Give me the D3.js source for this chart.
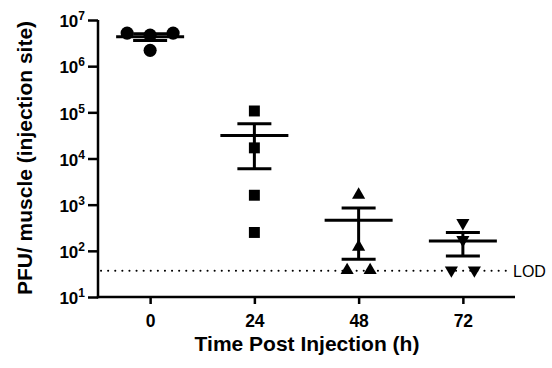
<!DOCTYPE html>
<html>
<head>
<meta charset="utf-8">
<script src="https://cdn.jsdelivr.net/npm/d3@7.9.0/dist/d3.min.js"></script>
<style>
  body { margin: 0; background: #fff; }
  svg { display: block; font-family: "Liberation Sans", Arial, sans-serif; }
</style>
</head>
<body>
<svg id="chart" width="552" height="368"></svg>
<script>
// --- data ---
const timePoints = [0, 24, 48, 72];
const shapes = ['circle', 'square', 'triangle', 'triangleDown'];
const pfu0 = [5.2e6, 4.7e6, 5.2e6, 2.2e6];
const pfu24 = [1.07e5, 1.7e4, 1.6e3, 250];
const pfu48 = [1630, 122, 38, 38];
const pfu72 = [404, 173, 38, 38];
// column slot of each point inside its group (dots that sit side by side)
const slots0 = [-2, 0, 2, 0];
const slots24 = [0, 0, 0, 0];
const slots48 = [0, 0, -1, 1];
const slots72 = [0, 0, -1, 1];
const yTicks = [1e1, 1e2, 1e3, 1e4, 1e5, 1e6, 1e7];
const lod = 37;

const groups = [
  { t: timePoints[0], shape: shapes[0], values: pfu0, slots: slots0 },
  { t: timePoints[1], shape: shapes[1], values: pfu24, slots: slots24 },
  { t: timePoints[2], shape: shapes[2], values: pfu48, slots: slots48 },
  { t: timePoints[3], shape: shapes[3], values: pfu72, slots: slots72 },
];

// mean and SEM for each group
groups.forEach((g) => {
  g.mean = d3.mean(g.values);
  g.sem = d3.deviation(g.values) / Math.sqrt(g.values.length);
});

const svg = d3.select('#chart');

const x = d3.scaleLinear().domain([-12, 84]).range([98, 515]);
const y = d3.scaleLog().domain([10, 1e7]).range([297, 20]);
const slotWidth = 11.5;

// --- axes ---
const yAxis = svg.append('g')
  .attr('class', 'y-axis')
  .attr('transform', `translate(${x.range()[0]},0)`)
  .call(d3.axisLeft(y).tickValues(yTicks).tickSize(10).tickPadding(3).tickFormat(''));

yAxis.selectAll('.tick text')
  .each(function (d) {
    const t = d3.select(this);
    t.append('tspan').text('10');
    t.append('tspan').attr('dy', -7).attr('font-size', 12).text(Math.round(Math.log10(d)));
  })
  .attr('font-size', 17)
  .attr('font-weight', 'bold')
  .attr('fill', '#000')
  .attr('dy', '0.4em');

const xAxis = svg.append('g')
  .attr('class', 'x-axis')
  .attr('transform', `translate(0,${y.range()[0]})`)
  .call(d3.axisBottom(x).tickValues(timePoints).tickSize(7).tickPadding(11));

xAxis.selectAll('.tick text')
  .attr('font-size', 17.5)
  .attr('font-weight', 'bold')
  .attr('fill', '#000');

svg.selectAll('.domain, .tick line')
  .attr('stroke', '#000')
  .attr('stroke-width', 2.5);
yAxis.select('.domain').attr('d', `M0,${y.range()[1]}V${y.range()[0] + 1.2}`);
xAxis.select('.domain').attr('d', `M${x.range()[0] - 1.2},0H${x.range()[1]}`);

// --- axis titles ---
svg.append('text')
  .attr('x', 307)
  .attr('y', 351)
  .attr('text-anchor', 'middle')
  .attr('font-size', 21)
  .attr('font-weight', 'bold')
  .text('Time Post Injection (h)');

svg.append('text')
  .attr('transform', 'translate(32,158) rotate(-90)')
  .attr('text-anchor', 'middle')
  .attr('font-size', 21)
  .attr('font-weight', 'bold')
  .text('PFU/ muscle (injection site)');

// --- limit of detection ---
svg.append('line')
  .attr('x1', x.range()[0] + 3)
  .attr('x2', 509)
  .attr('y1', y(lod))
  .attr('y2', y(lod))
  .attr('stroke', '#000')
  .attr('stroke-width', 2)
  .attr('stroke-linecap', 'round')
  .attr('stroke-dasharray', '0.1 7');

svg.append('text')
  .attr('x', 513)
  .attr('y', y(lod))
  .attr('dy', '0.36em')
  .attr('font-size', 16)
  .text('LOD');

// --- points ---
const symbolType = {
  circle: d3.symbolCircle,
  square: d3.symbolSquare,
  triangle: d3.symbolTriangle,
  triangleDown: d3.symbolTriangle,
};
const symbolSize = { circle: 135, square: 120, triangle: 75, triangleDown: 75 };

const points = groups.flatMap((g) =>
  g.values.map((v, i) => ({ t: g.t, v, slot: g.slots[i], shape: g.shape }))
);

svg.append('g')
  .selectAll('path')
  .data(points)
  .join('path')
  .attr('d', (d) => d3.symbol(symbolType[d.shape], symbolSize[d.shape])())
  .attr('transform', (d) => {
    const rot = d.shape === 'triangleDown' ? ' rotate(180)' : '';
    return `translate(${x(d.t) + d.slot * slotWidth},${y(d.v)})${rot}`;
  })
  .attr('fill', '#000');

// --- mean and SEM bars ---
const bars = svg.append('g').attr('stroke', '#000').attr('stroke-width', 3);

bars.selectAll('.mean')
  .data(groups)
  .join('line')
  .attr('class', 'mean')
  .attr('x1', (d) => x(d.t) - 34)
  .attr('x2', (d) => x(d.t) + 34)
  .attr('y1', (d) => y(d.mean))
  .attr('y2', (d) => y(d.mean));

bars.selectAll('.stem')
  .data(groups)
  .join('line')
  .attr('class', 'stem')
  .attr('x1', (d) => x(d.t))
  .attr('x2', (d) => x(d.t))
  .attr('y1', (d) => y(d.mean + d.sem))
  .attr('y2', (d) => y(d.mean - d.sem));

bars.selectAll('.cap')
  .data(groups.flatMap((g) => [g.mean + g.sem, g.mean - g.sem].map((v) => ({ t: g.t, v }))))
  .join('line')
  .attr('class', 'cap')
  .attr('x1', (d) => x(d.t) - 17)
  .attr('x2', (d) => x(d.t) + 17)
  .attr('y1', (d) => y(d.v))
  .attr('y2', (d) => y(d.v));
</script>
</body>
</html>
